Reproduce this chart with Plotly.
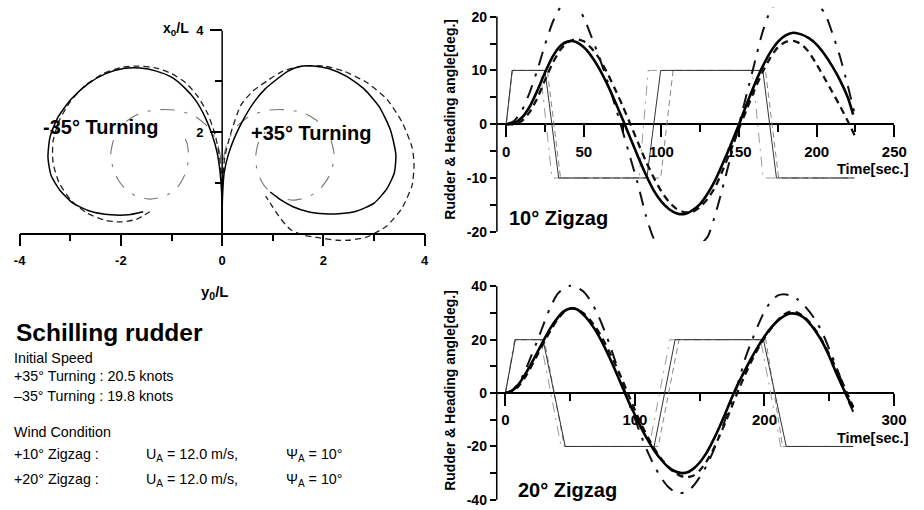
import plotly.graph_objects as go

W, H = 924, 510
def PX(x): return x / W
def PY(y): return 1 - y / H

FONT = "Liberation Sans, Arial, sans-serif"
NARROW = "Liberation Sans Narrow, Arial Narrow, Liberation Sans, sans-serif"

# ---------------- Turning circle data (y0/L horizontal, x0/L vertical) -------------
turn_pos_solid_y0 = [0, 0, 0.01, 0.04, 0.12, 0.24, 0.42, 0.63, 0.85, 1.08, 1.3, 1.53, 1.8, 2.1, 2.45, 2.8, 3.1, 3.32, 3.43, 3.4, 3.25, 3.0, 2.65, 2.3, 2.02, 1.7, 1.4, 1.15, 0.95]
turn_pos_solid_x0 = [0, 0.4, 0.8, 1.2, 1.55, 1.88, 2.25, 2.59, 2.85, 3.04, 3.2, 3.29, 3.3, 3.25, 3.1, 2.85, 2.5, 2.05, 1.56, 1.2, 0.88, 0.6, 0.44, 0.39, 0.39, 0.43, 0.53, 0.67, 0.82]

turn_pos_dash_y0 = [0, 0, 0.01, 0.05, 0.18, 0.37, 0.6, 0.89, 1.2, 1.6, 2.0, 2.4, 2.85, 3.25, 3.55, 3.75, 3.79, 3.75, 3.55, 3.25, 2.85, 2.5, 2.27, 1.9, 1.6, 1.35, 1.15, 1.0, 0.86]
turn_pos_dash_x0 = [0, 0.5, 1.0, 1.5, 2.01, 2.53, 2.8, 3.01, 3.2, 3.3, 3.3, 3.2, 2.98, 2.65, 2.2, 1.7, 1.37, 0.95, 0.5, 0.15, -0.07, -0.13, -0.13, -0.08, -0.03, 0.08, 0.3, 0.52, 0.74]

turn_pos_dd_y0 = [0, 0, 0, 0.03, 0.12, 0.3, 0.55, 0.9, 1.25, 1.6, 1.9, 2.12, 2.21, 2.15, 1.95, 1.7, 1.4, 1.1, 0.85, 0.7, 0.66, 0.72, 0.85]
turn_pos_dd_x0 = [0, 0.5, 1.0, 1.5, 1.85, 2.12, 2.32, 2.43, 2.44, 2.38, 2.2, 1.92, 1.56, 1.2, 0.9, 0.72, 0.66, 0.72, 0.92, 1.2, 1.5, 1.8, 2.0]

turn_neg_solid_y0 = [0, 0, -0.01, -0.04, -0.1, -0.2, -0.34, -0.52, -0.75, -1.0, -1.3, -1.62, -1.95, -2.3, -2.65, -2.98, -3.25, -3.4, -3.44, -3.38, -3.2, -2.95, -2.6, -2.2, -1.85, -1.56]
turn_neg_solid_x0 = [0, 0.4, 0.8, 1.2, 1.6, 1.95, 2.3, 2.62, 2.88, 3.08, 3.2, 3.26, 3.25, 3.15, 2.95, 2.65, 2.28, 1.9, 1.5, 1.15, 0.85, 0.6, 0.44, 0.37, 0.37, 0.43]

turn_neg_dash_y0 = [0, 0, -0.01, -0.05, -0.14, -0.28, -0.48, -0.72, -1.0, -1.3, -1.65, -2.0, -2.35, -2.7, -3.0, -3.22, -3.34, -3.34, -3.22, -2.98, -2.66, -2.3, -2.01, -1.7, -1.43]
turn_neg_dash_x0 = [0, 0.5, 1.0, 1.5, 1.95, 2.35, 2.7, 2.97, 3.15, 3.26, 3.3, 3.27, 3.15, 2.92, 2.6, 2.22, 1.82, 1.4, 1.0, 0.65, 0.4, 0.26, 0.23, 0.28, 0.43]

turn_neg_dd_y0 = [0, 0, 0, -0.03, -0.12, -0.3, -0.55, -0.9, -1.25, -1.6, -1.9, -2.12, -2.2, -2.13, -1.95, -1.7, -1.42, -1.12, -0.88, -0.72, -0.66, -0.7, -0.82]
turn_neg_dd_x0 = [0, 0.5, 1.0, 1.5, 1.85, 2.12, 2.32, 2.43, 2.44, 2.38, 2.2, 1.92, 1.56, 1.2, 0.92, 0.74, 0.68, 0.74, 0.92, 1.2, 1.5, 1.8, 2.0]

turn_x_ticks = [-4, -2, 0, 2, 4]
turn_x_ticktext = ["-4", "-2", "0", "2", "4"]
turn_y_ticks = [2, 4]
turn_y_ticktext = ["2", "4"]

# ---------------- 10 deg zigzag ----------------
zz10_solid_t = [0, 5, 10, 15, 20, 25, 30, 35, 40, 45, 50, 55, 60, 65, 70, 75, 80, 85, 90, 95, 100, 105, 110, 115, 120, 125, 130, 135, 140, 145, 150, 155, 160, 165, 170, 175, 180, 185, 190, 195, 200, 205, 210, 215, 220, 223.5]
zz10_solid_v = [0, 0.2, 1.2, 3.2, 6.2, 9.6, 12.6, 14.6, 15.4, 15.3, 14.3, 12.6, 10.3, 7.5, 4.3, 0.9, -2.6, -6.1, -9.4, -12.3, -14.4, -15.8, -16.6, -16.7, -16.0, -14.8, -12.8, -10.2, -7.0, -3.6, 0.0, 3.8, 7.4, 10.6, 13.3, 15.3, 16.5, 17.0, 16.7, 16.0, 14.8, 13.0, 10.8, 8.2, 5.0, 1.8]

zz10_dash_t = [0, 5, 10, 15, 20, 25, 30, 35, 40, 45, 50, 55, 60, 65, 70, 75, 80, 85, 90, 95, 100, 105, 110, 115, 120, 125, 130, 135, 140, 145, 150, 155, 160, 165, 170, 175, 180, 185, 190, 195, 200, 205, 210, 215, 220, 224.6]
zz10_dash_v = [0, 0.0, 0.6, 2.2, 4.8, 8.2, 11.4, 13.9, 15.3, 15.8, 15.4, 14.1, 12.2, 9.6, 6.6, 3.4, 0.0, -3.5, -6.9, -9.9, -12.5, -14.5, -15.8, -16.4, -16.3, -15.4, -13.8, -11.5, -8.2, -4.6, -0.8, 2.8, 6.4, 9.6, 12.3, 14.3, 15.3, 15.5, 14.9, 13.4, 11.1, 8.6, 6.0, 3.4, 0.6, -2.2]

zz10_dd_t = [0, 5, 10, 15, 20, 25, 30, 35, 40, 45, 50, 55, 60, 65, 70, 75, 80, 85, 90, 95, 100, 105, 110, 115, 120, 125, 130, 135, 140, 145, 150, 155, 160, 165, 170, 175, 180, 185, 190, 195, 200, 205, 210, 215, 220, 224.6]
zz10_dd_v = [0, 0.6, 2.5, 5.8, 10.0, 14.8, 19.0, 21.8, 23.0, 22.4, 19.8, 16.2, 12.4, 8.2, 3.6, -1.3, -6.3, -11.3, -17.0, -21.2, -22.8, -23.4, -23.5, -23.3, -22.8, -22.4, -20.8, -16.5, -11.2, -5.6, 0.0, 5.7, 11.4, 17.0, 21.0, 23.0, 23.8, 24.0, 23.9, 23.3, 22.2, 20.8, 17.0, 12.6, 7.2, 1.7]

zz10_rud_solid_t = [0, 3.8, 25, 33.8, 90.6, 99.5, 165.3, 174.1, 223.5]
zz10_rud_dash_t = [0, 4, 26.5, 35, 99.5, 107.5, 167, 175.5, 224.6]
zz10_rud_dd_t = [0, 4, 22, 29.5, 85.6, 91.5, 158.5, 165.5, 224.6]
zz10_rud_v = [0, 10, 10, -10, -10, 10, 10, -10, -10]

zz10_x_ticks = [0, 50, 100, 150, 200, 250]
zz10_x_ticktext = ["0", "50", "100", "150", "200", "250"]
zz10_y_ticks = [-20, -10, 0, 10, 20]
zz10_y_ticktext = ["-20", "-10", "0", "10", "20"]

# ---------------- 20 deg zigzag ----------------
zz20_t = [0, 5, 10, 15, 20, 25, 30, 35, 40, 45, 50, 55, 60, 65, 70, 75, 80, 85, 90, 95, 100, 105, 110, 115, 120, 125, 130, 135, 140, 145, 150, 155, 160, 165, 170, 175, 180, 185, 190, 195, 200, 205, 210, 215, 220, 225, 230, 235, 240, 245, 250, 255, 260, 265, 268.5]
zz20_solid_v = [0, 0.8, 3.2, 6.8, 11.0, 15.6, 20.2, 24.5, 28.0, 30.6, 31.7, 31.4, 29.5, 26.7, 23.1, 18.7, 13.7, 8.3, 2.6, -3.1, -8.2, -13.2, -17.6, -21.6, -24.8, -27.4, -29.1, -29.9, -29.8, -28.4, -26.0, -22.6, -18.1, -13.0, -7.4, -1.5, 3.8, 8.6, 13.2, 17.4, 21.2, 24.4, 27.0, 28.8, 29.8, 29.6, 28.4, 26.0, 22.8, 18.8, 13.8, 8.0, 2.6, -2.6, -5.5]
zz20_dash_v = [0, 0.5, 2.5, 5.8, 10.0, 14.6, 19.2, 23.6, 27.4, 30.2, 31.6, 31.5, 30.0, 27.6, 24.4, 20.4, 15.7, 10.6, 5.2, -0.6, -6.4, -11.8, -16.6, -20.8, -24.4, -27.4, -29.6, -31.0, -31.5, -31.0, -29.0, -25.8, -21.6, -16.4, -10.8, -4.8, 1.2, 6.8, 12.0, 16.6, 20.6, 24.2, 27.2, 29.4, 30.5, 30.2, 28.8, 26.4, 23.2, 19.2, 14.6, 9.6, 4.2, -1.4, -5.2]
zz20_dd_v = [0, 1.0, 3.5, 8.0, 14.0, 20.0, 26.5, 32.5, 37.0, 39.3, 40.2, 39.7, 38.1, 35.1, 30.8, 25.2, 18.8, 11.7, 4.2, -3.4, -9.7, -16.3, -22.2, -27.3, -31.6, -34.8, -36.8, -37.5, -37.0, -34.8, -31.5, -27.4, -22.3, -16.1, -9.6, -2.7, 4.3, 12.8, 19.4, 25.3, 30.7, 34.3, 36.5, 37.0, 36.6, 35.3, 33.2, 30.3, 26.8, 22.3, 16.5, 10.4, 3.8, -3.2, -7.0]

zz20_rud_solid_t = [0, 7.6, 29, 46.2, 114.8, 131, 199.2, 216.8, 268.5]
zz20_rud_dash_t = [0, 7.6, 30, 45.5, 118, 134, 201, 214, 268.5]
zz20_rud_dd_t = [0, 7, 27, 43, 111, 127, 197, 212.5, 268.5]
zz20_rud_v = [0, 20, 20, -20, -20, 20, 20, -20, -20]

zz20_x_ticks = [0, 100, 200, 300]
zz20_x_ticktext = ["0", "100", "200", "300"]
zz20_y_ticks = [-40, -20, 0, 20, 40]
zz20_y_ticktext = ["-40", "-20", "0", "20", "40"]

# ---------------- figure ----------------
fig = go.Figure()

def add(x, y, ax, color, width, dash):
    fig.add_trace(go.Scatter(x=x, y=y, xaxis="x" + ax, yaxis="y" + ax, mode="lines",
                             line=dict(color=color, width=width, dash=dash, shape="spline", smoothing=0.6),
                             showlegend=False, hoverinfo="skip"))

def add_lin(x, y, ax, color, width, dash):
    fig.add_trace(go.Scatter(x=x, y=y, xaxis="x" + ax, yaxis="y" + ax, mode="lines",
                             line=dict(color=color, width=width, dash=dash),
                             showlegend=False, hoverinfo="skip"))

DD_TURN = "14px,10px,3px,10px"
DD_HEAD = "14px,9px,3px,9px"

# turning (axis '' -> x / y)
add(turn_pos_dd_y0, turn_pos_dd_x0, "", "#777777", 1.1, DD_TURN)
add(turn_neg_dd_y0, turn_neg_dd_x0, "", "#777777", 1.1, DD_TURN)
add(turn_pos_dash_y0, turn_pos_dash_x0, "", "#222222", 1.3, "6px,4px")
add(turn_neg_dash_y0, turn_neg_dash_x0, "", "#222222", 1.3, "6px,4px")
add(turn_pos_solid_y0, turn_pos_solid_x0, "", "#000000", 1.5, "solid")
add(turn_neg_solid_y0, turn_neg_solid_x0, "", "#000000", 1.5, "solid")

# 10 deg zigzag (x2/y2)
add_lin(zz10_rud_dd_t, zz10_rud_v, "2", "#9a9a9a", 1, "10px,6px,2px,6px")
add_lin(zz10_rud_dash_t, zz10_rud_v, "2", "#888888", 1, "6px,4px")
add_lin(zz10_rud_solid_t, zz10_rud_v, "2", "#333333", 1, "solid")
add(zz10_dd_t, zz10_dd_v, "2", "#111111", 2, DD_HEAD)
add(zz10_dash_t, zz10_dash_v, "2", "#111111", 2.3, "7px,5px")
add(zz10_solid_t, zz10_solid_v, "2", "#000000", 2.6, "solid")

# 20 deg zigzag (x3/y3)
add_lin(zz20_rud_dd_t, zz20_rud_v, "3", "#9a9a9a", 1, "10px,6px,2px,6px")
add_lin(zz20_rud_dash_t, zz20_rud_v, "3", "#888888", 1, "6px,4px")
add_lin(zz20_rud_solid_t, zz20_rud_v, "3", "#333333", 1, "solid")
add(zz20_t, zz20_dd_v, "3", "#111111", 2, DD_HEAD)
add(zz20_t, zz20_dash_v, "3", "#111111", 2.3, "7px,5px")
add(zz20_t, zz20_solid_v, "3", "#000000", 2.6, "solid")

# ---------------- axes ----------------
tickf = lambda s: dict(family=FONT, size=s, color="black", weight="bold")

# turning plot geometry (equal aspect, 51.7 px per unit)
t_x0, t_scale, t_y0 = 220.7, 51.7, 230.7
t_yr = [-0.4, 4.0]
t_xdom = [PX(t_x0 - 4 * t_scale), PX(t_x0 + 4 * t_scale)]
t_ydom = [PY(t_y0 - t_yr[0] * t_scale), PY(t_y0 - t_yr[1] * t_scale)]

# 10 deg geometry
z1_x0, z1_sx = 510.7, 1.585
z1_xr = [-6, 250]
z1_y0, z1_sy = 119.3, 5.475
z1_yr = [-21.7, 21.7]
# 20 deg geometry
z2_x0, z2_sx = 509.9, 1.3225
z2_xr = [-6.7, 300]
z2_y0, z2_sy = 393.0, 2.7175
z2_yr = [-42, 42]

fig.update_layout(
    width=W, height=H, margin=dict(l=0, r=0, t=0, b=0, pad=0), autosize=False,
    paper_bgcolor="white", plot_bgcolor="white",
    font=dict(family=FONT, color="black"),
    xaxis=dict(domain=t_xdom, range=[-4, 4], anchor="free", position=PY(t_y0),
               showgrid=False, zeroline=False, showline=True, linecolor="black", linewidth=1.5,
               ticks="outside", ticklen=12, tickwidth=1.5, tickcolor="black",
               tickmode="array", tickvals=turn_x_ticks, ticktext=turn_x_ticktext,
               tickfont=tickf(13), ticklabelstandoff=3,
               minor=dict(ticks="outside", ticklen=7, tickwidth=1.5, tickcolor="black", dtick=1, tick0=0, showgrid=False)),
    yaxis=dict(domain=t_ydom, range=t_yr, anchor="free", position=PX(t_x0),
               showgrid=False, zeroline=False, showline=False,
               ticks="outside", ticklen=12, tickwidth=1.5, tickcolor="black",
               tickmode="array", tickvals=turn_y_ticks, ticktext=turn_y_ticktext,
               tickfont=tickf(13), ticklabelstandoff=4,
               minor=dict(ticks="outside", ticklen=7, tickwidth=1.5, tickcolor="black", tickmode="array", tickvals=[1, 3], showgrid=False)),
    xaxis2=dict(domain=[PX(z1_x0 + z1_xr[0] * z1_sx), PX(z1_x0 + z1_xr[1] * z1_sx)], range=z1_xr,
                anchor="free", position=PY(z1_y0),
                showgrid=False, zeroline=False, showline=False,
                ticks="outside", ticklen=12, tickwidth=1.5, tickcolor="black",
                tickmode="array", tickvals=zz10_x_ticks, ticktext=zz10_x_ticktext,
                tickfont=tickf(15), ticklabelstandoff=2,
                minor=dict(ticks="outside", ticklen=7, tickwidth=1.5, tickcolor="black", dtick=25, tick0=0, showgrid=False)),
    yaxis2=dict(domain=[PY(z1_y0 - z1_yr[0] * z1_sy), min(1.0, PY(z1_y0 - z1_yr[1] * z1_sy))], range=z1_yr,
                anchor="x2", showgrid=False, showline=False,
                zeroline=True, zerolinecolor="black", zerolinewidth=1.5,
                ticks="outside", ticklen=6, tickwidth=1.5, tickcolor="black",
                tickmode="array", tickvals=zz10_y_ticks, ticktext=zz10_y_ticktext,
                tickfont=tickf(14), ticklabelstandoff=0,
                minor=dict(ticks="outside", ticklen=6, tickwidth=1.5, tickcolor="black", dtick=5, tick0=0, showgrid=False)),
    xaxis3=dict(domain=[PX(z2_x0 + z2_xr[0] * z2_sx), PX(z2_x0 + z2_xr[1] * z2_sx)], range=z2_xr,
                anchor="free", position=PY(z2_y0),
                showgrid=False, zeroline=False, showline=False,
                ticks="outside", ticklen=12, tickwidth=1.5, tickcolor="black",
                tickmode="array", tickvals=zz20_x_ticks, ticktext=zz20_x_ticktext,
                tickfont=tickf(15), ticklabelstandoff=1,
                minor=dict(ticks="outside", ticklen=7, tickwidth=1.5, tickcolor="black", dtick=50, tick0=0, showgrid=False)),
    yaxis3=dict(domain=[PY(z2_y0 - z2_yr[0] * z2_sy), PY(z2_y0 - z2_yr[1] * z2_sy)], range=z2_yr,
                anchor="x3", showgrid=False, showline=False,
                zeroline=True, zerolinecolor="black", zerolinewidth=1.5,
                ticks="outside", ticklen=6, tickwidth=1.5, tickcolor="black",
                tickmode="array", tickvals=zz20_y_ticks, ticktext=zz20_y_ticktext,
                tickfont=tickf(14), ticklabelstandoff=0,
                minor=dict(ticks="outside", ticklen=6, tickwidth=1.5, tickcolor="black", dtick=10, tick0=0, showgrid=False)),
)

# axis lines that span only the labelled range
fig.add_shape(type="line", xref="x", yref="y", x0=0, x1=0, y0=0, y1=4, line=dict(color="black", width=1.5))
fig.add_shape(type="line", xref="x2 domain", yref="y2", x0=0, x1=0, y0=-20, y1=20, line=dict(color="black", width=1.5))
fig.add_shape(type="line", xref="x3 domain", yref="y3", x0=0, x1=0, y0=-40, y1=40, line=dict(color="black", width=1.5))

def note(text, x, y, size, xanchor="center", bold=True, family=FONT, angle=0):
    fig.add_annotation(text=text, x=PX(x), y=PY(y), xref="paper", yref="paper",
                       xanchor=xanchor, yanchor="middle", showarrow=False, textangle=angle,
                       borderpad=0,
                       font=dict(family=family, size=size, color="black", weight="bold" if bold else "normal"))

note("x<sub>0</sub>/L", 188, 22, 14, xanchor="right")
note("y<sub>0</sub>/L", 213, 291, 15)
note("-35° Turning", 96, 122.5, 20)
note("+35° Turning", 311, 128, 20)
note("Rudder &amp; Heading angle[deg.]", 453, 114, 14, angle=-90)
note("Rudder &amp; Heading angle[deg.]", 453, 390, 14, angle=-90)
note("10° Zigzag", 513, 215, 20, xanchor="left")
note("20° Zigzag", 522, 492, 20, xanchor="left")
note("Time[sec.]", 923, 165, 14.5, xanchor="right")
note("Time[sec.]", 923, 439, 14.5, xanchor="right")

SMALL = 14.3
note("Schilling rudder", 9, 331, 24.5, xanchor="left")
note("Initial Speed", 7, 357, SMALL, xanchor="left", bold=False, family=NARROW)
note("+35° Turning : 20.5 knots", 7, 376, SMALL, xanchor="left", bold=False, family=NARROW)
note("–35° Turning : 19.8 knots", 7, 396, SMALL, xanchor="left", bold=False, family=NARROW)
note("Wind Condition", 7, 433, SMALL, xanchor="left", bold=False, family=NARROW)
note("+10° Zigzag :", 7, 455, SMALL, xanchor="left", bold=False, family=NARROW)
note("+20° Zigzag :", 7, 480, SMALL, xanchor="left", bold=False, family=NARROW)
note("U<sub>A</sub> = 12.0 m/s,", 142, 456, SMALL, xanchor="left", bold=False, family=NARROW)
note("U<sub>A</sub> = 12.0 m/s,", 142, 481, SMALL, xanchor="left", bold=False, family=NARROW)
note("Ψ<sub>A</sub> = 10°", 285, 456, SMALL, xanchor="left", bold=False, family=NARROW)
note("Ψ<sub>A</sub> = 10°", 285, 481, SMALL, xanchor="left", bold=False, family=NARROW)

fig.write_html("out.html")
